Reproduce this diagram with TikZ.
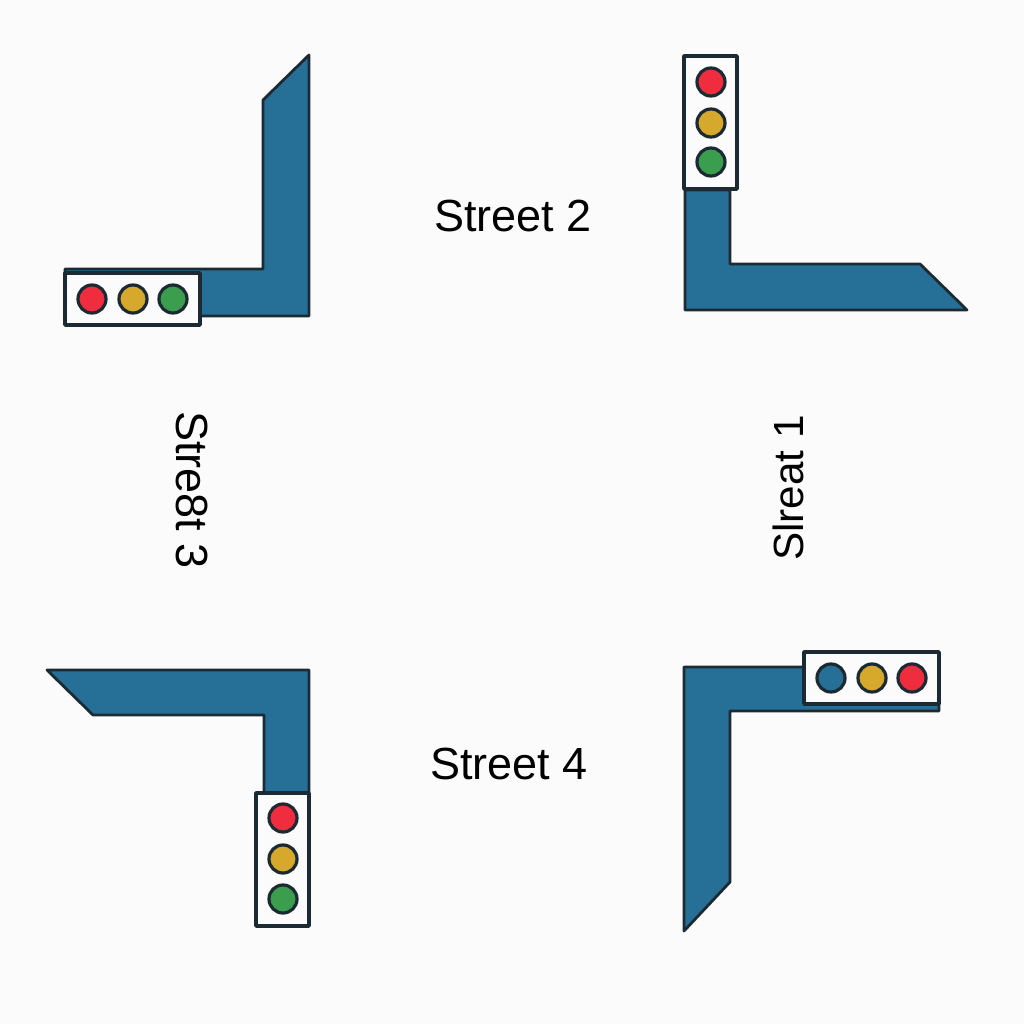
\documentclass[tikz,border=0pt]{standalone}
\usepackage{fontspec}
\setmainfont{Liberation Sans}
\definecolor{roadblue}{HTML}{266F96}
\definecolor{outline}{HTML}{1C2B33}
\definecolor{lampred}{HTML}{F02D3F}
\definecolor{lampyellow}{HTML}{D6A82C}
\definecolor{lampgreen}{HTML}{3B9E4E}
\definecolor{paper}{HTML}{FBFBFB}
\begin{document}
\begin{tikzpicture}[x=0.01cm, y=-0.01cm,
    road/.style={fill=roadblue, draw=outline, line width=0.028cm, line join=round},
    housing/.style={fill=paper, draw=outline, line width=0.035cm, line join=round},
    lamp/.style={draw=outline, line width=0.032cm},
    streetlabel/.style={font=\fontsize{12.8}{15}\selectfont, text=black, inner sep=0pt}]

  % background
  \fill[paper] (0, 0) rectangle (1024, 1024);
  \useasboundingbox (0, 0) rectangle (1024, 1024);

  % top left corner
  \draw[road] (309, 55) -- (309, 316) -- (65, 316) -- (65, 269) -- (263, 269) -- (263, 100) -- cycle;
  \draw[housing] (65, 273) rectangle (200, 325);
  \draw[lamp, fill=lampred] (92, 299) circle (0.14cm);
  \draw[lamp, fill=lampyellow] (133, 299) circle (0.14cm);
  \draw[lamp, fill=lampgreen] (173, 299) circle (0.14cm);

  % top right corner
  \draw[road] (685, 190) -- (730, 190) -- (730, 264) -- (920, 264) -- (967, 310) -- (685, 310) -- cycle;
  \draw[housing] (684, 56) rectangle (737, 189);
  \draw[lamp, fill=lampred] (711, 82) circle (0.14cm);
  \draw[lamp, fill=lampyellow] (711, 123) circle (0.14cm);
  \draw[lamp, fill=lampgreen] (711, 162) circle (0.14cm);

  % bottom left corner
  \draw[road] (47, 670) -- (309, 670) -- (309, 795) -- (264, 795) -- (264, 715) -- (93, 715) -- cycle;
  \draw[housing] (256, 793) rectangle (309, 926);
  \draw[lamp, fill=lampred] (283, 818) circle (0.14cm);
  \draw[lamp, fill=lampyellow] (283, 859) circle (0.14cm);
  \draw[lamp, fill=lampgreen] (283, 899) circle (0.14cm);

  % bottom right corner
  \draw[road] (684, 667) -- (810, 667) -- (810, 700) -- (939, 700) -- (939, 711) -- (730, 711) -- (730, 882) -- (684, 931) -- cycle;
  \draw[housing] (804, 652) rectangle (939, 704);
  \draw[lamp, fill=roadblue] (831, 678) circle (0.14cm);
  \draw[lamp, fill=lampyellow] (872, 678) circle (0.14cm);
  \draw[lamp, fill=lampred] (912, 678) circle (0.14cm);

  % street names
  \node[streetlabel, font=\fontsize{12}{15}\selectfont] (streetA) at (788, 488) [rotate=90] {Slreat 1};
  \node[streetlabel] (streetB) at (513, 216) {Street 2};
  \node[streetlabel] (streetC) at (192, 490) [rotate=-90] {Stre8t 3};
  \node[streetlabel] (streetD) at (509, 764) {Street 4};

\end{tikzpicture}
\end{document}
